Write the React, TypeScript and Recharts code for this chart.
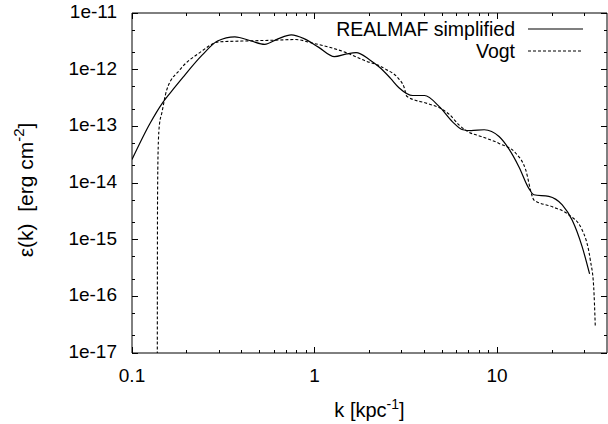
import { Legend, Line, LineChart, XAxis, YAxis } from "recharts";

// #region Sample data
// REALMAF simplified (solid)
const realmafK = [
  0.1, 0.125, 0.147, 0.17, 0.19, 0.242, 0.294, 0.366, 0.45, 0.533, 0.63, 0.746, 0.88, 1.05, 1.285, 1.5, 1.69, 2.0,
  2.27, 2.6, 2.9, 3.45, 4.0, 4.84, 5.7, 6.5, 7.2, 8.5, 10.25, 11.6, 13.2, 14.9, 15.9, 19.2, 22.75, 25.8, 29.2, 32.1,
];
const realmafEps = [
  2.6e-14, 1.1e-13, 2.6e-13, 4.7e-13, 7.3e-13, 1.8e-12, 3.2e-12, 3.8e-12, 3.2e-12, 2.8e-12, 3.5e-12, 4.1e-12,
  3.5e-12, 2.5e-12, 1.7e-12, 1.9e-12, 2.0e-12, 1.5e-12, 1.1e-12, 7.1e-13, 4.8e-13, 3.5e-13, 3.5e-13, 2.2e-13,
  1.2e-13, 8.7e-14, 8.4e-14, 8.7e-14, 6.6e-14, 4.0e-14, 1.9e-14, 8.1e-15, 6.2e-15, 5.8e-15, 4.1e-15, 2.2e-15,
  7.6e-16, 2.5e-16,
];

// Vogt (dashed)
const vogtK = [
  0.1375, 0.138, 0.1392, 0.1413, 0.1458, 0.155, 0.183, 0.235, 0.3, 0.4, 0.58, 0.79, 0.97, 1.2, 1.49, 1.93, 2.27,
  2.48, 2.87, 3.1, 3.2, 4.2, 4.86, 5.5, 6.2, 6.9, 8.2, 10.25, 12.66, 14.35, 15.6, 15.9, 20.1, 24.7, 29.2, 32.4, 33.8,
  34.5,
];
const vogtEps = [
  1e-18, 5e-15, 4.4e-14, 1.06e-13, 1.74e-13, 4.4e-13, 1.0e-12, 2.0e-12, 3.1e-12, 3.2e-12, 3.3e-12, 3.4e-12,
  2.95e-12, 2.5e-12, 2.0e-12, 1.4e-12, 1.17e-12, 1.0e-12, 7.1e-13, 4.8e-13, 3.4e-13, 2.5e-13, 2.1e-13, 1.6e-13,
  1.05e-13, 8.1e-14, 6.6e-14, 5.0e-14, 3.35e-14, 1.7e-14, 5.75e-15, 5.0e-15, 3.8e-15, 2.75e-15, 1.5e-15, 4.4e-16,
  1.5e-16, 3.0e-17,
];

const xTicks = [
  0.1, 0.2, 0.3, 0.4, 0.5, 0.6, 0.7, 0.8, 0.9, 1, 2, 3, 4, 5, 6, 7, 8, 9, 10, 20, 30,
];
const yTicks = [
  1e-17, 2e-17, 5e-17, 1e-16, 2e-16, 5e-16, 1e-15, 2e-15, 5e-15, 1e-14, 2e-14, 5e-14, 1e-13, 2e-13, 5e-13, 1e-12,
  2e-12, 5e-12, 1e-11,
];
// #endregion

const realmafData = realmafK.map((k, i) => ({ k, eps: realmafEps[i] }));
const vogtData = vogtK.map((k, i) => ({ k, eps: vogtEps[i] }));

const FONT = '"Liberation Sans", Arial, Helvetica, sans-serif';

const isMajor = (v: number) => {
  const l = Math.log10(v);
  return Math.abs(l - Math.round(l)) < 1e-6;
};

// gnuplot style: ticks point into the plot, labels only on decades
const makeTick = (side: "bottom" | "top" | "left" | "right") => (props: any) => {
  const { x, y, payload } = props;
  const v = payload.value;
  const len = isMajor(v) ? 6 : 3;
  let x2 = x;
  let y2 = y;
  if (side === "bottom") y2 = y - len;
  else if (side === "top") y2 = y + len;
  else if (side === "left") x2 = x + len;
  else x2 = x - len;

  let label = null;
  if (isMajor(v) && side === "bottom") {
    label = (
      <text x={x} y={y + 29} textAnchor="middle" fontSize={19} fontFamily={FONT} fill="#000">
        {String(v)}
      </text>
    );
  }
  if (isMajor(v) && side === "left") {
    label = (
      <text x={x - 15} y={y + 5} textAnchor="end" fontSize={19} fontFamily={FONT} fill="#000">
        {`1e${Math.round(Math.log10(v))}`}
      </text>
    );
  }
  return (
    <g>
      <line x1={x} y1={y} x2={x2} y2={y2} stroke="#000" strokeWidth={1} shapeRendering="crispEdges" />
      {label}
    </g>
  );
};

const XLabel = (props: any) => {
  const vb = props.viewBox || { x: 132, y: 353, width: 475 };
  return (
    <text x={vb.x + vb.width / 2} y={vb.y + 64} textAnchor="middle" fontSize={20} fontFamily={FONT} fill="#000">
      <tspan>k [kpc</tspan>
      <tspan dy={-8} fontSize={14}>
        -1
      </tspan>
      <tspan dy={8}>]</tspan>
    </text>
  );
};

const YLabel = () => {
  const cx = 33;
  const cy = 190;
  return (
    <text
      x={cx}
      y={cy}
      transform={`rotate(-90 ${cx} ${cy})`}
      textAnchor="middle"
      fontSize={21}
      fontFamily={FONT}
      fill="#000"
      style={{ whiteSpace: "pre" }}
    >
      <tspan>{"ε(k)  [erg cm"}</tspan>
      <tspan dy={-9} fontSize={15}>
        -2
      </tspan>
      <tspan dy={9}>]</tspan>
    </text>
  );
};

const legendItems = [
  { name: "REALMAF simplified", dash: undefined },
  { name: "Vogt", dash: "3 2" },
];

const LegendBox = () => (
  <div style={{ fontFamily: FONT, fontSize: 19.5, color: "#000" }}>
    {legendItems.map((it) => (
      <div key={it.name} style={{ display: "flex", alignItems: "center", height: 22 }}>
        <span style={{ width: 215, flex: "none", textAlign: "right", lineHeight: "22px", whiteSpace: "nowrap" }}>
          {it.name}
        </span>
        <svg width={68} height={10} style={{ display: "block", flex: "none" }}>
          <line x1={13} y1={5} x2={68} y2={5} stroke="#000" strokeWidth={1.2} strokeDasharray={it.dash} />
        </svg>
      </div>
    ))}
  </div>
);

const axisProps = {
  type: "number" as const,
  scale: "log" as const,
  allowDataOverflow: true,
  interval: 0 as const,
  tickSize: 0,
  tickMargin: 0,
  tickLine: false,
  axisLine: { stroke: "#000" },
};

const App = () => (
  <div style={{ position: "absolute", left: 0, top: 0, background: "#fff" }}>
    <LineChart width={608} height={424} margin={{ top: 12, right: 0, left: 0, bottom: 0 }}>
      <XAxis
        {...axisProps}
        xAxisId="main"
        dataKey="k"
        domain={[0.1, 40]}
        ticks={xTicks}
        height={71}
        tick={makeTick("bottom")}
        label={<XLabel />}
      />
      <XAxis
        {...axisProps}
        xAxisId="top"
        orientation="top"
        dataKey="k"
        domain={[0.1, 40]}
        ticks={xTicks}
        height={1}
        tick={makeTick("top")}
      />
      <YAxis
        {...axisProps}
        yAxisId="main"
        domain={[1e-17, 1e-11]}
        ticks={yTicks}
        width={132}
        tick={makeTick("left")}
        label={<YLabel />}
      />
      <YAxis
        {...axisProps}
        yAxisId="right"
        orientation="right"
        domain={[1e-17, 1e-11]}
        ticks={yTicks}
        width={1}
        tick={makeTick("right")}
      />
      <Legend
        layout="horizontal"
        verticalAlign="middle"
        align="center"
        wrapperStyle={{ top: 18, left: 300, width: 290, margin: 0, padding: 0 }}
        content={<LegendBox />}
      />
      <Line
        xAxisId="main"
        yAxisId="main"
        data={realmafData}
        dataKey="eps"
        name="REALMAF simplified"
        type="monotone"
        stroke="#000"
        strokeWidth={1.2}
        dot={false}
        isAnimationActive={false}
      />
      <Line
        xAxisId="main"
        yAxisId="main"
        data={vogtData}
        dataKey="eps"
        name="Vogt"
        type="monotone"
        stroke="#000"
        strokeWidth={1.1}
        strokeDasharray="3 2"
        dot={false}
        isAnimationActive={false}
      />
    </LineChart>
  </div>
);

export default App;
